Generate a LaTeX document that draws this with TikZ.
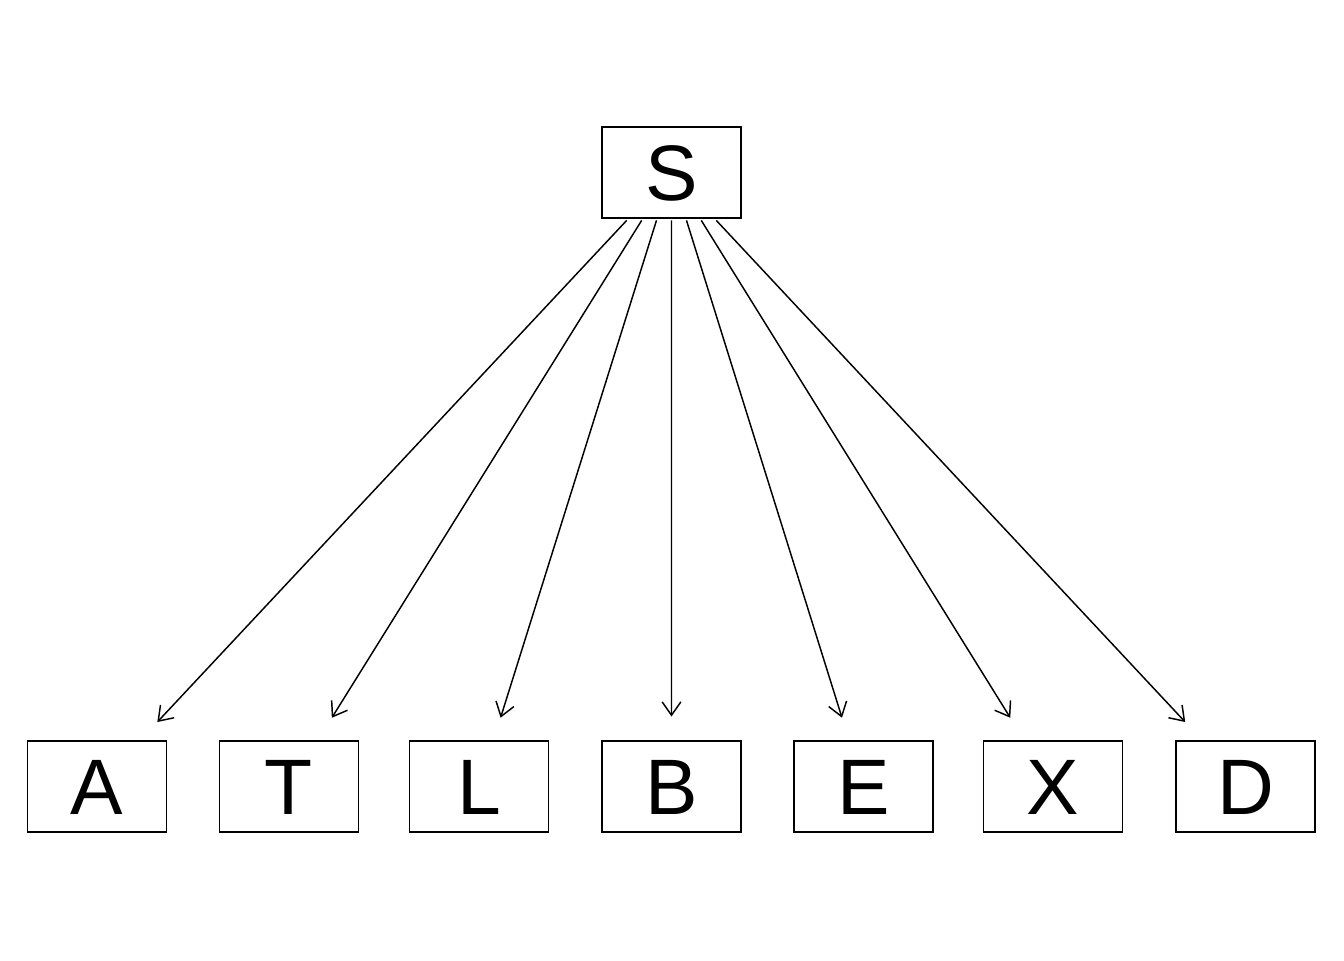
\documentclass[tikz,border=0pt]{standalone}
\usepackage{fontspec}
\setmainfont{Liberation Sans}
\usetikzlibrary{arrows.meta,calc}
\begin{document}
\begin{tikzpicture}[x=0.75pt,y=-0.75pt,
  vbox/.style={draw,line width=1.1pt,minimum width=104.25pt,minimum height=68.25pt,inner sep=0pt,
    font=\fontsize{59}{59}\selectfont,text height=42.2pt,text depth=0pt},
  edge/.style={line width=1.1pt,-{Straight Barb[length=10pt,width=14pt,line width=1.1pt]}}]
\useasboundingbox (0,0) rectangle (1344,960);
\node[vbox] (S) at (671.5,172.5) {S};
\node[vbox] (A) at (97,786.5) {A};
\node[vbox] (T) at (289,786.5) {T};
\node[vbox] (L) at (479,786.5) {L};
\node[vbox] (B) at (671.5,786.5) {B};
\node[vbox] (E) at (863.5,786.5) {E};
\node[vbox] (X) at (1053,786.5) {X};
\node[vbox] (D) at (1245.5,786.5) {D};
\foreach \t/\e in {A/0.895,T/0.888,L/0.888,B/0.886,E/0.888,X/0.888,D/0.895}{
  \draw[edge] ($(S.center)!0.078!(\t.center)$) -- ($(S.center)!\e!(\t.center)$);
}
\end{tikzpicture}
\end{document}
